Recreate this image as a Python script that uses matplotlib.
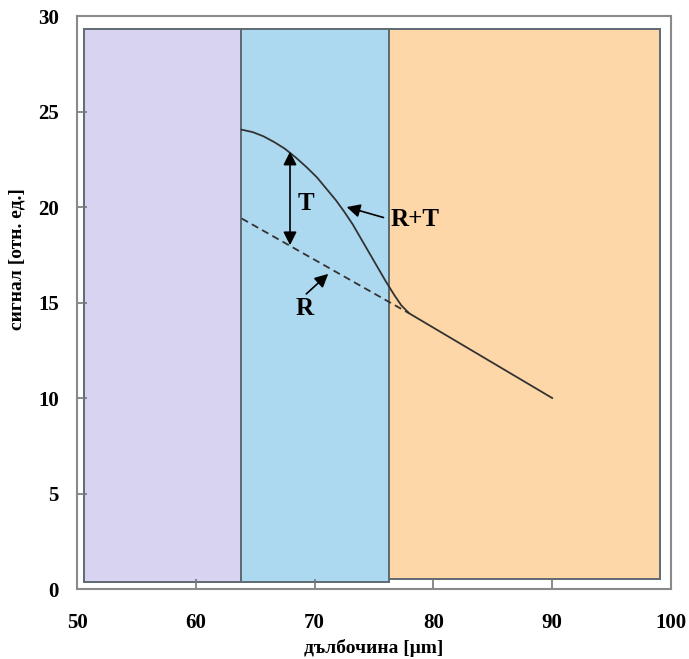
import matplotlib
matplotlib.use("Agg")
import matplotlib.pyplot as plt
from matplotlib.patches import Rectangle

plt.rcParams['font.family'] = ['Liberation Serif', 'DejaVu Serif']
plt.rcParams['font.weight'] = 'bold'

# layer regions
layer_x0 = [50.6, 63.8, 76.25]
layer_x1 = [63.8, 76.25, 99.05]
layer_y0 = [0.37, 0.37, 0.52]
layer_y1 = [29.3, 29.3, 29.3]
layer_colors = ['#d8d3f1', '#add9f0', '#fdd7a8']

# R+T curve
rt_x = [63.86, 64.8, 65.7, 66.6, 67.5, 68.4, 69.3, 70.2, 71.0, 71.8, 72.5,
        73.2, 73.9, 74.6, 75.3, 76.0, 76.7, 77.3, 77.97, 90.0]
rt_y = [24.05, 23.92, 23.7, 23.4, 23.05, 22.6, 22.1, 21.55, 20.95, 20.35, 19.75,
        19.1, 18.35, 17.6, 16.85, 16.1, 15.4, 14.85, 14.43, 10.0]

# R (dashed) line
r_x = [63.86, 77.97]
r_y = [19.4, 14.43]

xticks = [50, 60, 70, 80, 90, 100]
yticks = [0, 5, 10, 15, 20, 25, 30]

fig = plt.figure(figsize=(6.89, 6.59), dpi=100)
ax = fig.add_axes([0.1118, 0.1062, 0.862, 0.8695])

for x0, x1, y0, y1, c in zip(layer_x0, layer_x1, layer_y0, layer_y1, layer_colors):
    ax.add_patch(Rectangle((x0, y0), x1 - x0, y1 - y0, facecolor=c,
                           edgecolor='#5e6a72', linewidth=1.4, zorder=1))

ax.plot(rt_x, rt_y, color='#333333', linewidth=1.3, zorder=3)
ax.plot(r_x, r_y, color='#333333', linewidth=1.3, linestyle=(0, (4, 2.5)), zorder=3)

arrow = dict(arrowstyle='-|>', color='black', linewidth=1.2,
             mutation_scale=20, shrinkA=0, shrinkB=0)
ax.annotate('', xy=(67.93, 22.9), xytext=(67.93, 18.0),
            arrowprops=dict(arrowstyle='<|-|>', color='black', linewidth=1.2,
                            mutation_scale=20, shrinkA=0, shrinkB=0), zorder=4)
ax.annotate('', xy=(72.7, 20.0), xytext=(75.8, 19.45), arrowprops=arrow, zorder=4)
ax.annotate('', xy=(71.15, 16.5), xytext=(69.3, 15.45), arrowprops=arrow, zorder=4)

ax.text(69.3, 20.2, 'T', fontsize=18, fontweight='bold', ha='center', va='center')
ax.text(76.4, 19.35, 'R+T', fontsize=18, fontweight='bold', ha='left', va='center')
ax.text(69.2, 14.7, 'R', fontsize=18, fontweight='bold', ha='center', va='center')

ax.set_xlim(50, 100)
ax.set_ylim(0, 30)
ax.set_xticks(xticks)
ax.set_yticks(yticks)
ax.tick_params(direction='in', length=7, width=1.2, color='#777777',
               labelsize=15, top=False, right=False)
ax.tick_params(axis='x', pad=17)
ax.tick_params(axis='y', pad=13)
for lbl in ax.get_xticklabels() + ax.get_yticklabels():
    lbl.set_fontweight('bold')

for s in ax.spines.values():
    s.set_color('#8a8a8a')
    s.set_linewidth(1.5)

ax.set_xlabel('дълбочина [μm]', fontsize=14, fontweight='bold')
ax.set_ylabel('сигнал [отн. ед.]', fontsize=14, fontweight='bold')
ax.xaxis.set_label_coords(0.5, -0.088)
ax.yaxis.set_label_coords(-0.086, 0.575)

fig.savefig('out.png', dpi=100)
